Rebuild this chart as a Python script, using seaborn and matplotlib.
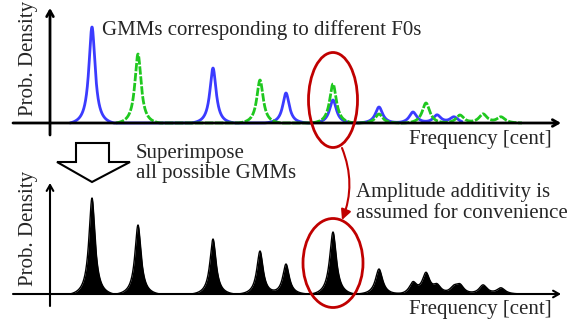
import numpy as np
import pandas as pd
import matplotlib
matplotlib.use("Agg")
import matplotlib.pyplot as plt
import seaborn as sns
from matplotlib.patches import Ellipse, Polygon, FancyArrowPatch

# harmonic peaks (x in cent-like units, height above baseline)
blue_centers = [92, 213, 286, 333, 379, 413, 437, 454]
blue_heights = [96, 55, 30, 23, 16, 11, 8, 6]
blue_widths = [3.8, 3.8, 4.0, 4.2, 4.4, 4.6, 4.8, 5.0]

green_centers = [138, 260, 333, 379, 426, 460, 483, 501]
green_heights = [69, 43, 39, 9, 20, 8, 9, 6]
green_widths = [3.8, 3.9, 4.1, 4.4, 4.6, 4.8, 5.0, 5.2]

peak_reach = 22  # each component fades to zero this far from its centre
blue_range = (70, 462)
green_range = (116, 522)
sum_range = (66, 545)


def gmm_density(x, centers, heights, widths):
    y = np.zeros_like(x)
    for c, h, w in zip(centers, heights, widths):
        edge = w**2 / (peak_reach**2 + w**2)
        shape = (w**2 / ((x - c)**2 + w**2) - edge) / (1 - edge)
        y += h * np.clip(shape, 0, None)
    return y


x = np.linspace(0, 584, 4000)
blue = gmm_density(x, blue_centers, blue_heights, blue_widths)
green = gmm_density(x, green_centers, green_heights, green_widths)
total = blue + green

df = pd.DataFrame({"freq": x, "blue": blue, "green": green, "total": total})
df_b = df[(df.freq >= blue_range[0]) & (df.freq <= blue_range[1])]
df_g = df[(df.freq >= green_range[0]) & (df.freq <= green_range[1])]
df_s = df[(df.freq >= sum_range[0]) & (df.freq <= sum_range[1])]

sns.set_theme(style="white")
plt.rcParams["font.family"] = ["Liberation Serif", "DejaVu Serif"]

fig = plt.figure(figsize=(5.84, 3.26), dpi=100)
ax1 = fig.add_axes([0, 0.5, 1, 0.5])
ax2 = fig.add_axes([0, 0, 1, 0.5])

# top: individual GMMs
sns.lineplot(data=df_b, x="freq", y="blue", ax=ax1, color="#3b3bff",
             lw=2, estimator=None, zorder=1)
sns.lineplot(data=df_g, x="freq", y="green", ax=ax1, color="#1fc81f",
             lw=2, estimator=None, linestyle=(0, (3, 0.6)), zorder=1)
ax1.set_xlim(0, 584)
ax1.set_ylim(-40, 123)

# bottom: superimposed
sns.lineplot(data=df_s, x="freq", y="total", ax=ax2, color="black",
             lw=1, estimator=None, zorder=1)
ax2.fill_between(df_s.freq, 0, df_s.total, color="black", lw=0, zorder=1)
ax2.set_xlim(0, 584)
ax2.set_ylim(-32, 131)

for ax, lw, top in [(ax1, 2, 115), (ax2, 1.5, 111)]:
    ax.set_axis_off()
    ax.annotate("", xy=(561, 0), xytext=(13, 0),
                arrowprops=dict(arrowstyle="->,head_length=0.35,head_width=0.2", lw=lw,
                                color="black", shrinkA=0, shrinkB=0), zorder=3)
    ax.annotate("", xy=(50, top), xytext=(50, -12),
                arrowprops=dict(arrowstyle="->,head_length=0.35,head_width=0.2", lw=lw,
                                color="black", shrinkA=0, shrinkB=0), zorder=3)

# overlay in pixel coordinates for annotations
ov = fig.add_axes([0, 0, 1, 1])
ov.set_xlim(0, 584)
ov.set_ylim(326, 0)
ov.set_axis_off()

fs = 15
ov.text(28, 58, "Prob. Density", rotation=90, ha="center", va="center", fontsize=fs)
ov.text(28, 228, "Prob. Density", rotation=90, ha="center", va="center", fontsize=fs)
ov.text(102, 35, "GMMs corresponding to different F0s", ha="left", va="baseline", fontsize=fs)
ov.text(552, 144, "Frequency [cent]", ha="right", va="baseline", fontsize=fs)
ov.text(552, 314, "Frequency [cent]", ha="right", va="baseline", fontsize=fs)
ov.text(136, 158, "Superimpose", ha="left", va="baseline", fontsize=fs)
ov.text(136, 178, "all possible GMMs", ha="left", va="baseline", fontsize=fs)
ov.text(356, 197, "Amplitude additivity is", ha="left", va="baseline", fontsize=fs)
ov.text(356, 218, "assumed for convenience", ha="left", va="baseline", fontsize=fs)

# hollow down arrow
ov.add_patch(Polygon([(76, 143), (109, 143), (109, 162), (130, 162), (92, 182),
                      (57, 162), (76, 162)], closed=True, fc="white", ec="black", lw=1.5))

red = "#c00000"
ov.add_patch(Ellipse((333, 100), 49, 95, fill=False, ec=red, lw=2))
ov.add_patch(Ellipse((333, 263), 60, 89, fill=False, ec=red, lw=2))
ov.add_patch(FancyArrowPatch((342, 148), (342, 220), connectionstyle="arc3,rad=-0.2",
                             arrowstyle="-|>,head_length=0.5,head_width=0.25",
                             mutation_scale=12, color=red, lw=1.5,
                             shrinkA=0, shrinkB=0))

fig.savefig("out.png", dpi=100)
